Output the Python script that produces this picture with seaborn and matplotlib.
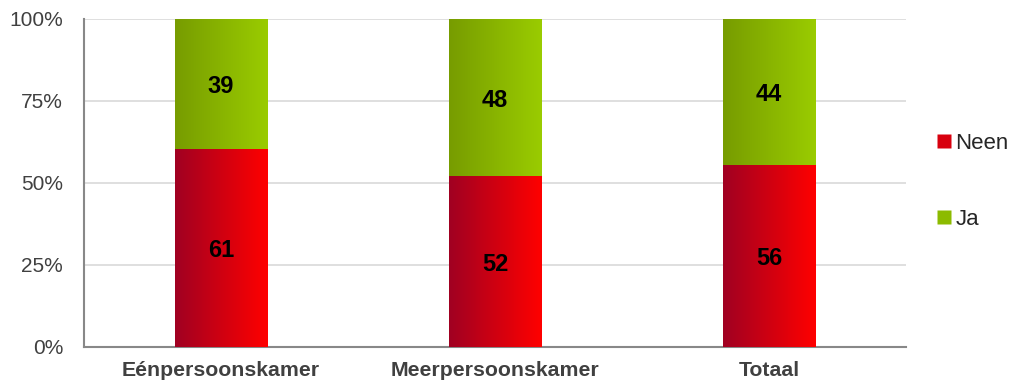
import numpy as np
import pandas as pd
import matplotlib
matplotlib.use("Agg")
import matplotlib.pyplot as plt
from matplotlib.colors import LinearSegmentedColormap
from matplotlib.lines import Line2D
import seaborn as sns

# data
categories = ["Eénpersoonskamer", "Meerpersoonskamer", "Totaal"]
neen = [60.4, 52.1, 55.5]
ja = [39.6, 47.9, 44.5]
neen_labels = ["61", "52", "56"]
ja_labels = ["39", "48", "44"]
ytick_labels = ["0%", "25%", "50%", "75%", "100%"]

df = pd.DataFrame({"categorie": categories, "Neen": neen, "Ja": ja})
df["totaal"] = df["Neen"] + df["Ja"]

sns.set_style("white")
plt.rcParams["font.family"] = ["Liberation Sans", "DejaVu Sans"]

fig = plt.figure(figsize=(10.15, 3.83), dpi=100)
ax = fig.add_axes([84 / 1015, 1 - 347 / 383, 822 / 1015, 328 / 383])

# green = full stack, red drawn on top
sns.barplot(data=df, x="categorie", y="totaal", color="#8cb800", width=0.336,
            ax=ax, zorder=2, saturation=1)
sns.barplot(data=df, x="categorie", y="Neen", color="#d0001a", width=0.336,
            ax=ax, zorder=3, saturation=1)

red_cmap = LinearSegmentedColormap.from_list("red", ["#a00022", "#ff0000"])
green_cmap = LinearSegmentedColormap.from_list("green", ["#779c00", "#9acc00"])
grad = np.linspace(0, 1, 256).reshape(1, -1)

n = len(categories)
for i, p in enumerate(ax.patches):
    cmap = green_cmap if i < n else red_cmap
    x0, y0 = p.get_x(), p.get_y()
    w, h = p.get_width(), p.get_height()
    im = ax.imshow(grad, cmap=cmap, aspect="auto",
                   extent=[x0, x0 + w, y0, y0 + h], zorder=p.get_zorder(),
                   interpolation="bilinear")
    im.set_clip_path(p)
    p.set_facecolor("none")
    p.set_edgecolor("none")

# value labels
for i in range(n):
    ax.text(i, neen[i] / 2, neen_labels[i], ha="center", va="center_baseline",
            fontsize=17, fontweight="bold", color="black", zorder=5)
    ax.text(i, neen[i] + ja[i] / 2, ja_labels[i], ha="center",
            va="center_baseline", fontsize=17, fontweight="bold",
            color="black", zorder=5)

ax.set_xlim(-0.5, n - 0.5)
ax.set_ylim(0, 100)
ax.set_yticks([0, 25, 50, 75, 100])
ax.set_yticklabels(ytick_labels)
ax.yaxis.grid(True, color="#d9d9d9", linewidth=1.2, zorder=0)
ax.set_axisbelow(True)
ax.set_xlabel("")
ax.set_ylabel("")

# category ticks between groups
ax.set_xticks(np.arange(n))
ax.set_xticklabels(categories, fontsize=15.3, fontweight="bold", color="#404040")
ax.set_xticks(np.arange(n + 1) - 0.5, minor=True)
ax.tick_params(axis="x", which="major", length=0, pad=10)
ax.tick_params(axis="x", which="minor", length=7, color="#888888", width=1.2,
               direction="out")
ax.tick_params(axis="y", length=7, color="#888888", width=1.2, direction="out",
               labelsize=15, labelcolor="#404040", pad=8)

for s in ["top", "right"]:
    ax.spines[s].set_visible(False)
for s in ["left", "bottom"]:
    ax.spines[s].set_color("#888888")
    ax.spines[s].set_linewidth(1.5)

handles = [
    Line2D([], [], marker="s", linestyle="none", markersize=10,
           markerfacecolor="#d8000e", markeredgecolor="none", label="Neen"),
    Line2D([], [], marker="s", linestyle="none", markersize=10,
           markerfacecolor="#8cbb00", markeredgecolor="none", label="Ja"),
]
fig.legend(handles=handles, loc="center left", bbox_to_anchor=(0.913, 0.5265),
           frameon=False, fontsize=16, labelspacing=2.45, handletextpad=0.1,
           handlelength=0.8, borderaxespad=0)

fig.savefig("out.png", dpi=100)
